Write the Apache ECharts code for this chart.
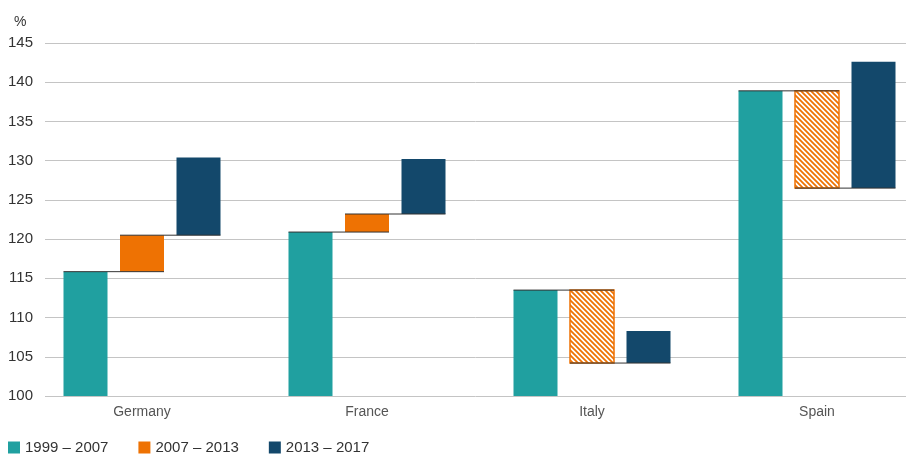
<!DOCTYPE html>
<html>
<head>
<meta charset="utf-8">
<script src="https://cdn.jsdelivr.net/npm/echarts@6/dist/echarts.min.js"></script>
<style>html,body{margin:0;padding:0;background:#fff}#c{width:906px;height:454px}</style>
</head>
<body>
<div id="c"></div>
<script>
// ---- data ----
const categories = ['Germany', 'France', 'Italy', 'Spain'];
const seriesNames = ['1999 – 2007', '2007 – 2013', '2013 – 2017'];
const base = 100;
const level2007 = [115.85, 120.9, 113.5, 138.9];
const level2013 = [120.5, 123.2, 104.2, 126.5];
const level2017 = [130.4, 130.2, 108.3, 142.6];
const yTicks = [100, 105, 110, 115, 120, 125, 130, 135, 140, 145];

// ---- styles ----
const TEAL = '#20a0a0', ORANGE = '#ee7203', NAVY = '#13486b';
const T = 5;
const pc = document.createElement('canvas');
pc.width = T; pc.height = T;
const pctx = pc.getContext('2d');
pctx.fillStyle = '#ffffff'; pctx.fillRect(0, 0, T, T);
pctx.strokeStyle = ORANGE; pctx.lineWidth = 1.8;
pctx.beginPath();
pctx.moveTo(-1, -1); pctx.lineTo(T + 1, T + 1);
pctx.moveTo(-1, T - 1); pctx.lineTo(1, T + 1);
pctx.moveTo(T - 1, -1); pctx.lineTo(T + 1, 1);
pctx.stroke();
const hatch = { image: pc, repeat: 'repeat' };

const BAR_W = 44, BAR_STEP = 56.5, PX_PER_CAT = 225, FIRST_CENTER = 142;
const GRID_LEFT = 45, GRID_RIGHT = 0, WIDTH = 906;

const starts = [categories.map(() => base), level2007, level2013];
const ends = [level2007, level2013, level2017];
const colors = [TEAL, ORANGE, NAVY];

const series = [];
for (let k = 0; k < 3; k++) {
  const col = colors[k];
  series.push({
    type: 'custom', name: seriesNames[k],
    itemStyle: { color: col },
    renderItem: function (params, api) {
      const i = api.value(0);
      const p0 = api.coord([i, api.value(1)]);
      const p1 = api.coord([i, api.value(2)]);
      const cx = p0[0] + (k - 1) * BAR_STEP;
      const down = api.value(2) < api.value(1);
      const y = Math.min(p0[1], p1[1]);
      const h = Math.abs(p0[1] - p1[1]);
      return {
        type: 'rect',
        shape: { x: cx - BAR_W / 2, y: y, width: BAR_W, height: h },
        style: down ? { fill: hatch, stroke: col, lineWidth: 1.5 } : { fill: col }
      };
    },
    data: categories.map((c, i) => [i, starts[k][i], ends[k][i]])
  });
}
const connectors = [];
categories.forEach((c, i) => {
  connectors.push([i, level2007[i], 0]);
  connectors.push([i, level2013[i], 1]);
});
series.push({
  type: 'custom', name: 'conn', z: 10, silent: true,
  renderItem: function (params, api) {
    const p = api.coord([api.value(0), api.value(1)]);
    const k = api.value(2);
    const cx0 = p[0] + (k - 1) * BAR_STEP;
    const cx1 = p[0] + k * BAR_STEP;
    return {
      type: 'line',
      shape: { x1: cx0 - BAR_W / 2, y1: p[1], x2: cx1 + BAR_W / 2, y2: p[1] },
      style: { stroke: '#333333', lineWidth: 1 }
    };
  },
  data: connectors
});

const xMin = (GRID_LEFT - FIRST_CENTER) / PX_PER_CAT;
const xMax = (WIDTH - GRID_RIGHT - FIRST_CENTER) / PX_PER_CAT;

const chart = echarts.init(document.getElementById('c'), null, { renderer: 'canvas' });
chart.setOption({
  animation: false,
  backgroundColor: '#ffffff',
  textStyle: { fontFamily: 'Liberation Sans, Arial, sans-serif' },
  grid: { left: GRID_LEFT, right: GRID_RIGHT, top: 43, height: 353 },
  xAxis: {
    type: 'value', min: xMin, max: xMax,
    axisLine: { show: false }, axisTick: { show: false }, splitLine: { show: false },
    axisLabel: {
      customValues: categories.map((c, i) => i),
      formatter: v => categories[Math.round(v)],
      margin: 9, fontSize: 14, color: '#555555'
    }
  },
  yAxis: {
    type: 'value', min: yTicks[0], max: yTicks[yTicks.length - 1], interval: 5,
    axisLine: { show: false }, axisTick: { show: false },
    axisLabel: { margin: 12, fontSize: 15, color: '#333333' },
    splitLine: { lineStyle: { color: '#c4c4c4', width: 1 } }
  },
  legend: {
    data: seriesNames, left: 3, top: 435, itemWidth: 12, itemHeight: 12, itemGap: 30,
    icon: 'rect', textStyle: { fontSize: 15, color: '#333333' }, selectedMode: false
  },
  graphic: [{ type: 'text', left: 14, top: 15, style: { text: '%', fontSize: 14, fill: '#333333', fontFamily: 'Liberation Sans, Arial, sans-serif' } }],
  series: series
});
</script>
</body>
</html>
